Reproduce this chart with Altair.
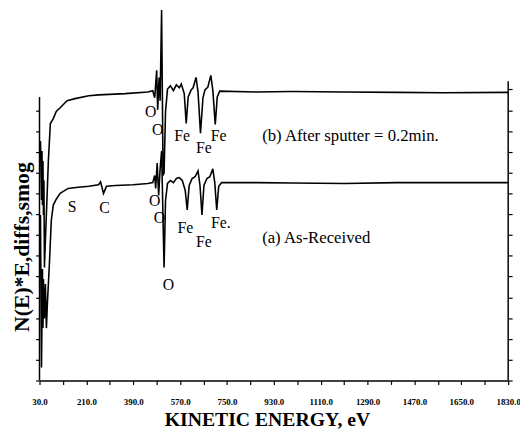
import altair as alt
import pandas as pd

# (b) After sputter = 0.2 min  -- kinetic energy (eV) and N(E)*E diff signal (arb. units)
b_ev = [33.8, 37.6, 39.5, 41.3, 43.2, 45.1, 47.0, 48.9, 52.7, 58.4, 64.0, 71.6, 82.9, 94.3,
        109.4, 135.9, 166.1, 219.1, 256.9, 359.0, 446.0, 464.9, 472.4, 480.0, 483.8, 489.4,
        493.2, 498.9, 504.6, 508.4, 514.0, 521.6, 532.9, 544.3, 555.6, 567.0, 574.5, 585.9,
        593.4, 601.0, 612.3, 619.9, 631.2, 638.8, 648.3, 657.7, 665.3, 676.6, 688.0, 695.5,
        705.0, 712.6, 722.0, 861.9, 1000.0, 1202.3, 1400.0, 1580.4, 1830.0]
b_sig = [57.6, 43.4, 55.2, 42.2, 52.8, 39.8, 48.1, 27.2, 33.9, 43.3, 52.8, 61.8, 63.0, 64.7,
         65.6, 67.3, 67.8, 68.5, 68.7, 69.0, 69.4, 69.7, 68.0, 74.6, 65.1, 72.9,
         67.3, 89.1, 49.3, 50.0, 64.7, 70.1, 70.9, 69.7, 71.1, 70.4, 71.3, 69.0,
         61.8, 68.2, 69.9, 70.4, 72.9, 69.4, 59.5, 68.0, 69.9, 70.6, 73.4, 69.9,
         61.6, 68.2, 69.6, 69.4, 69.5, 69.4, 69.3, 69.2, 69.3]

# (a) As-Received
a_ev = [33.8, 35.7, 37.6, 39.5, 41.3, 43.2, 45.1, 48.9, 52.7, 56.5, 60.3, 67.8, 75.4, 82.9,
        94.3, 109.4, 139.7, 169.9, 219.1, 256.9, 264.5, 275.8, 287.1, 321.2, 389.2, 446.0,
        464.9, 472.4, 476.2, 481.9, 487.6, 493.2, 498.9, 508.4, 514.0, 521.6, 532.9, 544.3,
        555.6, 567.0, 578.3, 589.7, 597.2, 604.8, 616.1, 627.5, 638.8, 646.4, 653.9, 661.5,
        672.9, 684.2, 695.5, 703.1, 710.7, 718.2, 729.6, 861.9, 1000.0, 1202.3, 1400.0,
        1580.4, 1830.0]
a_sig = [39.8, 19.7, 3.1, 14.9, 26.8, 12.6, 24.4, 14.9, 23.2, 12.6, 18.5, 27.9, 38.6, 42.2,
         43.6, 45.0, 46.2, 46.4, 46.7, 47.1, 47.8, 45.0, 46.7, 46.9, 47.1, 47.4,
         47.6, 49.3, 46.2, 52.3, 44.5, 50.9, 55.2, 27.2, 43.3, 47.4, 48.1, 47.6,
         48.6, 48.8, 48.1, 45.7, 41.0, 46.9, 48.6, 49.0, 50.4, 46.9, 39.8, 46.9,
         48.6, 49.0, 50.9, 47.6, 41.0, 46.7, 47.6, 47.6, 47.5, 47.4, 47.6,
         47.6, 47.6]

# peak annotations
peak_text = ["O", "O", "Fe", "Fe", "Fe", "O", "O", "Fe", "Fe", "Fe.", "O", "S", "C"]
peak_ev = [457, 484, 578, 661, 718, 472, 491, 590, 661, 726, 525, 155, 280]
peak_sig = [64.5, 60.2, 58.7, 55.9, 58.7, 43.1, 39.1, 36.7, 33.4, 37.9, 23.0, 41.7, 41.4]

# curve captions
cap_text = ["(b) After sputter = 0.2min.", "(a) As-Received"]
cap_ev = [885, 885]
cap_sig = [58.7, 34.3]

# frame sides (left and right vertical axis lines)
frame_ev = [30, 1830]
frame_lo = [0, 0]
frame_hi = [68.2, 72]

x_ticks = list(range(30, 1831, 90))
left_ticks = list(range(0, 66, 5))
right_ticks = list(range(0, 71, 5))

curves = pd.DataFrame({
    "ev": b_ev + a_ev,
    "sig": b_sig + a_sig,
    "series": ["b"] * len(b_ev) + ["a"] * len(a_ev),
})
peaks = pd.DataFrame({"ev": peak_ev, "sig": peak_sig, "t": peak_text})
caps = pd.DataFrame({"ev": cap_ev, "sig": cap_sig, "t": cap_text})
frame = pd.DataFrame({"ev": frame_ev, "lo": frame_lo, "hi": frame_hi})

SERIF = "Liberation Serif"
xscale = alt.Scale(domain=[30, 1830], nice=False, zero=False)
yscale = alt.Scale(domain=[0, 72], nice=False, zero=False)

x_axis = alt.Axis(
    values=x_ticks,
    labelExpr="(datum.value - 30) % 180 == 0 ? format(datum.value, '.1f') : ''",
    labelFont=SERIF, labelFontWeight="bold", labelFontSize=9, labelColor="black",
    labelPadding=13, labelFlush=False, labelOverlap=False,
    tickColor="black", tickSize=4, tickWidth=1.2,
    domainColor="black", domainWidth=1.5, grid=False,
    title="KINETIC ENERGY, eV", titleFont=SERIF, titleFontWeight="bold",
    titleFontSize=20, titleColor="black", titleX=231, titleY=40,
    titleBaseline="middle", titleAlign="center",
)
x_enc = alt.X("ev:Q", scale=xscale, axis=x_axis)

lines = alt.Chart(curves).mark_line(color="black", strokeWidth=1.6).encode(
    x=x_enc,
    y=alt.Y("sig:Q", scale=yscale, axis=alt.Axis(
        orient="left", values=left_ticks, labels=False, domain=False,
        tickColor="black", tickSize=4, tickWidth=1.2, grid=False,
        title="N(E)*E,diffs,smog", titleFont=SERIF, titleFontWeight="bold",
        titleFontSize=22, titleColor="black", titleAngle=270,
        titleX=-18, titleY=168, titleAlign="center", titleBaseline="middle",
    )),
    detail="series:N",
)

rules = alt.Chart(frame).mark_rule(color="black", strokeWidth=1.5).encode(
    x=x_enc,
    y=alt.Y("lo:Q", scale=yscale, title=None, axis=alt.Axis(
        orient="right", values=right_ticks, labels=False, domain=False,
        tickColor="black", tickSize=4, tickWidth=1.2, grid=False,
    )),
    y2="hi:Q",
)

peak_labels = alt.Chart(peaks).mark_text(
    font=SERIF, fontSize=16, color="black", align="center", baseline="middle"
).encode(
    x=x_enc,
    y=alt.Y("sig:Q", scale=yscale, axis=None),
    text="t:N",
)

cap_labels = alt.Chart(caps).mark_text(
    font=SERIF, fontSize=17, color="black", align="left", baseline="middle"
).encode(
    x=x_enc,
    y=alt.Y("sig:Q", scale=yscale, axis=None),
    text="t:N",
)

chart = alt.layer(lines, rules, peak_labels, cap_labels).resolve_axis(
    y="independent"
).properties(
    width=476, height=304,
    autosize=alt.AutoSizeParams(type="none"),
    padding={"left": 32, "top": 71, "right": 12, "bottom": 48},
    background="white",
).configure_view(stroke=None)

chart.save("out.html", embed_options={"renderer": "svg", "actions": False})
